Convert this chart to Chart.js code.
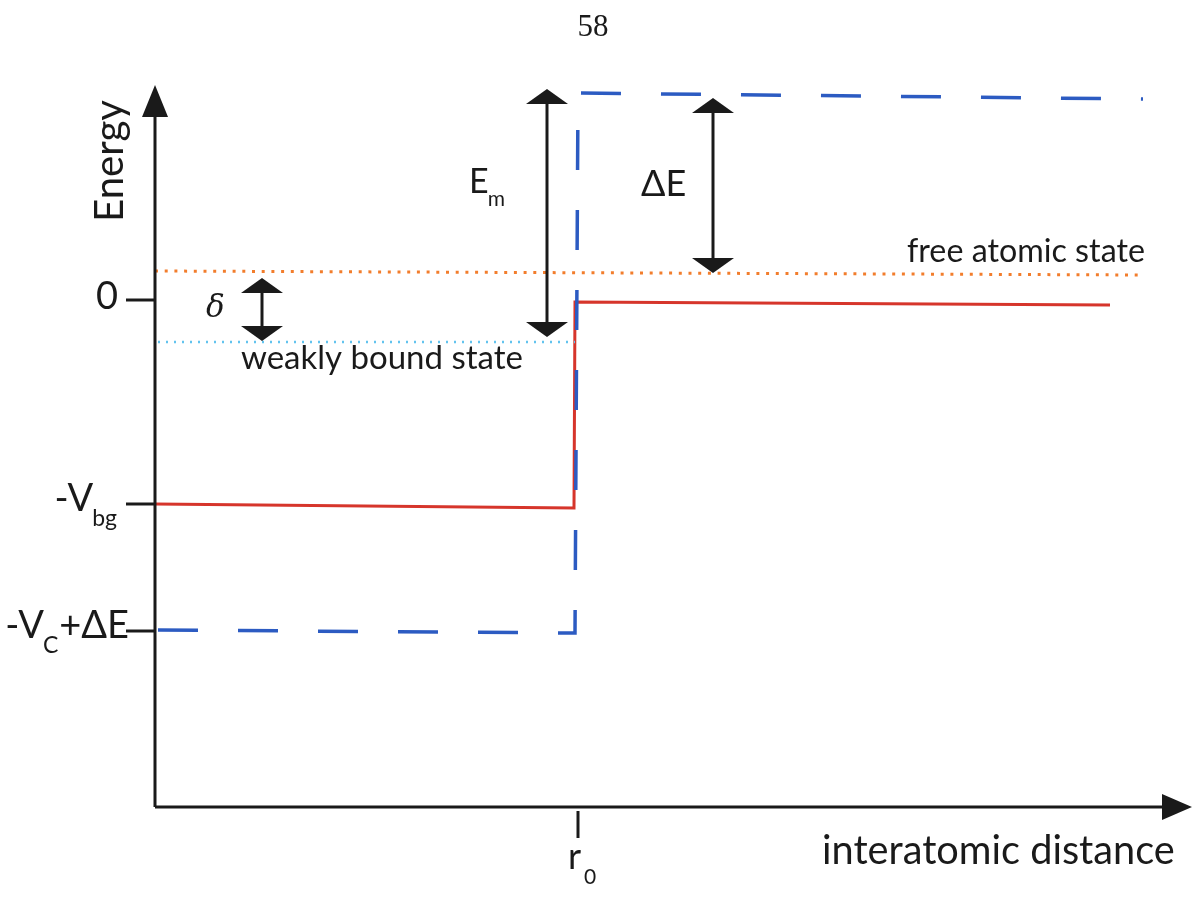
<!DOCTYPE html>
<html>
<head>
<meta charset="utf-8">
<script src="https://cdn.jsdelivr.net/npm/chart.js@4.4.0/dist/chart.umd.min.js"></script>
<style>
  html, body { margin: 0; padding: 0; background: #fff; }
  #wrap { width: 1198px; height: 901px; position: relative; }
</style>
</head>
<body>
<div id="wrap"><canvas id="chart"></canvas></div>
<script>
"use strict";

// Axis ranges (arbitrary energy / distance units)
const xRange = [0, 10.37];
const yRange = [-5.07, 2.15];

// Potential curves
const redX = [0, 4.19, 4.2, 9.55];
const redY = [-2.04, -2.08, -0.02, -0.05];
const blueX = [0.03, 4.2, 4.23, 9.88];
const blueY = [-3.30, -3.33, 2.07, 2.01];

// State levels
const freeX = [0, 9.85];
const freeY = [0.29, 0.25];
const boundX = [0.03, 4.2];
const boundY = [-0.42, -0.42];

// Tick positions and labels (base, subscript, rest)
const yTickValues = [0, -2.04, -3.31];
const yTickLabels = [["0", "", ""], ["-V", "bg", ""], ["-V", "C", "+ΔE"]];
const xTickValues = [4.23];
const xTickLabels = [["r", "0"]];

// Double arrows: x, yTop, yBottom
const arrowX = [1.07, 3.92, 5.58];
const arrowTop = [0.22, 2.11, 2.02];
const arrowBottom = [-0.41, -0.37, 0.27];

const FONT = "Lato, 'Open Sans', sans-serif";

function pts(xs, ys) {
  return xs.map((x, i) => ({ x: x, y: ys[i] }));
}

function tri(ctx, x, y, dir, w, h) {
  ctx.beginPath();
  if (dir === "up") {
    ctx.moveTo(x, y); ctx.lineTo(x - w / 2, y + h); ctx.lineTo(x + w / 2, y + h);
  } else if (dir === "down") {
    ctx.moveTo(x, y); ctx.lineTo(x - w / 2, y - h); ctx.lineTo(x + w / 2, y - h);
  } else {
    ctx.moveTo(x, y); ctx.lineTo(x - h, y - w / 2); ctx.lineTo(x - h, y + w / 2);
  }
  ctx.closePath();
  ctx.fill();
}

// font size that makes text span the given width
function fitSize(ctx, text, width, family) {
  ctx.font = "100px " + family;
  return (100 * width) / ctx.measureText(text).width;
}

// base text + subscript + rest, right-aligned at xr, base centred on y
function subText(ctx, parts, xr, y, size, subSize) {
  const [base, sub, rest] = parts;
  ctx.textBaseline = "middle";
  ctx.textAlign = "left";
  ctx.font = size + "px " + FONT;
  const wb = ctx.measureText(base).width;
  const wr = ctx.measureText(rest).width;
  ctx.font = subSize + "px " + FONT;
  const ws = ctx.measureText(sub).width;
  let x = xr - wb - ws - wr;
  ctx.font = size + "px " + FONT;
  ctx.fillText(base, x, y);
  x += wb - 1;
  ctx.font = subSize + "px " + FONT;
  ctx.fillText(sub, x, y + size * 0.52);
  x += ws + 1;
  ctx.font = size + "px " + FONT;
  ctx.fillText(rest, x, y);
}

const diagramPlugin = {
  id: "diagram",
  afterDatasetsDraw(chart) {
    const ctx = chart.ctx;
    const xs = chart.scales.x;
    const ys = chart.scales.y;
    const ca = chart.chartArea;
    ctx.save();
    ctx.fillStyle = "#1a1a1a";
    ctx.strokeStyle = "#1a1a1a";

    // axes
    ctx.lineWidth = 3;
    ctx.beginPath();
    ctx.moveTo(ca.left, ca.bottom);
    ctx.lineTo(ca.left, ca.top + 20);
    ctx.moveTo(ca.left, ca.bottom);
    ctx.lineTo(ca.right - 20, ca.bottom);
    ctx.stroke();
    tri(ctx, ca.left, ca.top, "up", 26, 32);
    tri(ctx, ca.right, ca.bottom, "right", 26, 30);

    // y ticks
    const labelRight = [118, 118, 129];
    yTickValues.forEach((v, i) => {
      const py = ys.getPixelForValue(v);
      ctx.beginPath();
      ctx.moveTo(ca.left - 29, py);
      ctx.lineTo(ca.left, py);
      ctx.stroke();
      subText(ctx, yTickLabels[i], labelRight[i], py - (i === 0 ? 3 : 5), 38, 23);
    });

    // x ticks
    xTickValues.forEach((v, i) => {
      const px = xs.getPixelForValue(v);
      ctx.beginPath();
      ctx.moveTo(px, ca.bottom + 4);
      ctx.lineTo(px, ca.bottom + 31);
      ctx.stroke();
      ctx.textAlign = "left";
      ctx.textBaseline = "alphabetic";
      ctx.font = "36px " + FONT;
      ctx.fillText(xTickLabels[i][0], px - 10, ca.bottom + 62);
      ctx.font = "21px " + FONT;
      ctx.fillText(xTickLabels[i][1], px + 6, ca.bottom + 77);
    });

    // double arrows
    ctx.lineWidth = 3;
    arrowX.forEach((v, i) => {
      const px = xs.getPixelForValue(v);
      const t = ys.getPixelForValue(arrowTop[i]);
      const b = ys.getPixelForValue(arrowBottom[i]);
      ctx.beginPath();
      ctx.moveTo(px, t + 10);
      ctx.lineTo(px, b - 10);
      ctx.stroke();
      tri(ctx, px, t, "up", 42, 15);
      tri(ctx, px, b, "down", 42, 15);
    });

    // labels
    ctx.textBaseline = "middle";
    ctx.textAlign = "left";
    ctx.font = "italic 31px 'DejaVu Serif', serif";
    ctx.fillText("δ", 206, 309);
    subText(ctx, ["E", "m", ""], 506, 182, 34, 21);
    ctx.font = "36px " + FONT;
    ctx.fillText("ΔE", 641, 184);

    ctx.textBaseline = "alphabetic";
    let s = fitSize(ctx, "weakly bound state", 282, FONT);
    ctx.font = s + "px " + FONT;
    ctx.fillText("weakly bound state", 241, 369);
    s = fitSize(ctx, "free atomic state", 238, FONT);
    ctx.font = s + "px " + FONT;
    ctx.fillText("free atomic state", 907, 262);
    s = fitSize(ctx, "interatomic distance", 353, FONT);
    ctx.font = s + "px " + FONT;
    ctx.fillText("interatomic distance", 822, 864);

    // y title
    ctx.save();
    ctx.translate(110, 161);
    ctx.rotate(-Math.PI / 2);
    ctx.textAlign = "center";
    ctx.textBaseline = "middle";
    s = fitSize(ctx, "Energy", 122, FONT);
    ctx.font = s + "px " + FONT;
    ctx.fillText("Energy", 0, 0);
    ctx.restore();

    // page number
    ctx.textAlign = "center";
    ctx.textBaseline = "middle";
    ctx.font = "31px 'Liberation Serif', 'DejaVu Serif', serif";
    ctx.fillText("58", 593, 28);
    ctx.restore();
  },
};

new Chart(document.getElementById("chart"), {
  type: "scatter",
  data: {
    datasets: [
      {
        label: "free atomic state",
        data: pts(freeX, freeY),
        showLine: true,
        borderColor: "#f27d2c",
        borderWidth: 3,
        borderDash: [3, 6.7],
        pointRadius: 0,
      },
      {
        label: "weakly bound state",
        data: pts(boundX, boundY),
        showLine: true,
        borderColor: "#62c3ee",
        borderWidth: 2.5,
        borderDash: [2, 6],
        pointRadius: 0,
      },
      {
        label: "blue",
        data: pts(blueX, blueY),
        showLine: true,
        borderColor: "#2c5bc2",
        borderWidth: 3.5,
        borderDash: [40, 40],
        pointRadius: 0,
        tension: 0,
      },
      {
        label: "red",
        data: pts(redX, redY),
        showLine: true,
        borderColor: "#d6352b",
        borderWidth: 3,
        pointRadius: 0,
        tension: 0,
      },
    ],
  },
  options: {
    responsive: true,
    maintainAspectRatio: false,
    animation: false,
    layout: { padding: { left: 155, right: 6, top: 85, bottom: 94 } },
    plugins: { legend: { display: false }, tooltip: { enabled: false } },
    scales: {
      x: { type: "linear", min: xRange[0], max: xRange[1], display: false },
      y: { type: "linear", min: yRange[0], max: yRange[1], display: false },
    },
  },
  plugins: [diagramPlugin],
});
</script>
</body>
</html>
